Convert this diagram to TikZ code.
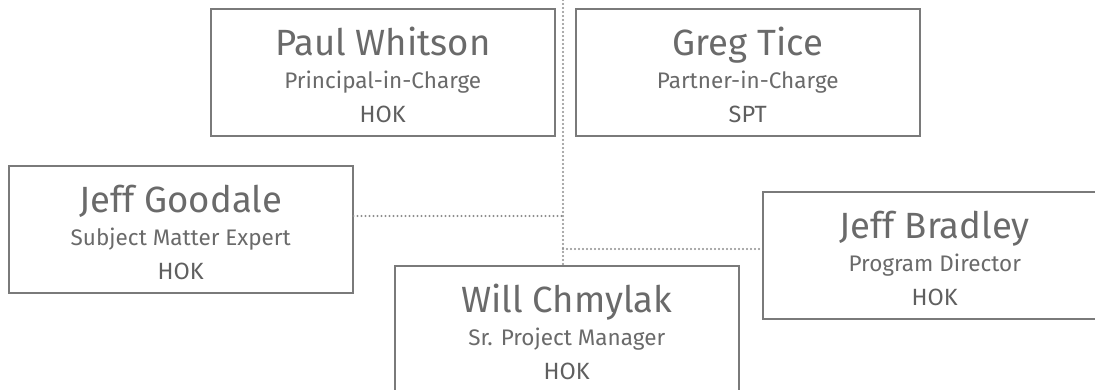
\documentclass[tikz,border=0pt]{standalone}
\usepackage{fontspec}
\setmainfont{Fira Sans}
\definecolor{boxline}{HTML}{7A7A7A}
\definecolor{txt}{HTML}{6A6A6A}
\definecolor{dotline}{HTML}{8E8E8E}
\begin{document}
\begin{tikzpicture}[x=1pt,y=-1pt,
  person/.style={draw=boxline,line width=1.5pt,minimum width=344pt,minimum height=127pt,inner sep=0pt,anchor=north west},
  nametext/.style={anchor=base,text=txt,inner sep=0pt,font=\fontsize{36.5}{38}\selectfont},
  roletext/.style={anchor=base,text=txt,inner sep=0pt,font=\fontsize{22.5}{24}\selectfont},
  firmtext/.style={anchor=base,text=txt!90!black,inner sep=0pt,font=\fontsize{23.5}{25}\selectfont},
  link/.style={draw=dotline,line width=2.2pt,line cap=round,dash pattern=on 0pt off 4pt}]
\useasboundingbox (0,0) rectangle (1095,389);
\fill[white] (0,0) rectangle (1095,389);
% boxes
\node[person] (pw) at (210,8) {};
\node[person] (gt) at (575,8) {};
\node[person] (jg) at (8,165) {};
\node[person] (jb) at (762,191) {};
\node[person] (wc) at (394,265) {};
% texts
\foreach \b/\n/\r/\f in {pw/Paul Whitson/Principal-in-Charge/HOK,
                        gt/Greg Tice/Partner-in-Charge/SPT,
                        jg/Jeff Goodale/Subject Matter Expert/HOK,
                        jb/Jeff Bradley/Program Director/HOK,
                        wc/Will Chmylak/Sr. Project Manager/HOK}{
  \node[nametext] (\b-name) at ([yshift=-47pt]\b.north) {\n};
  \node[roletext] (\b-role) at ([yshift=-80pt]\b.north) {\r};
  \node[firmtext] (\b-firm) at ([yshift=-114pt]\b.north) {\f};
}
% connectors
\coordinate (top) at (563,0);
\coordinate (j1) at (563,216);
\coordinate (j2) at (563,249);
\draw[link] (top) -- (top |- wc.north);
\draw[link] (jg.east |- j1) -- (j1);
\draw[link] (j2) -- (jb.west |- j2);
\end{tikzpicture}
\end{document}
